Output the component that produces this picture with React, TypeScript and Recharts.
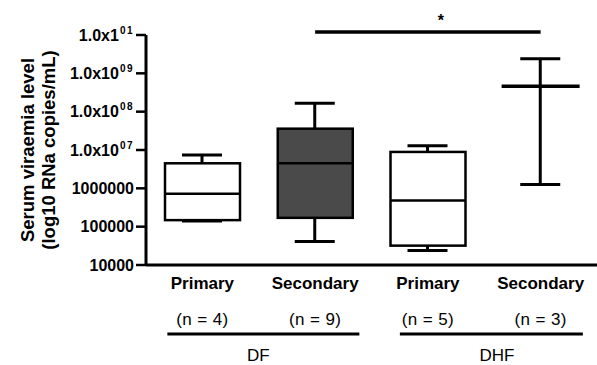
import React from 'react';
import { ComposedChart, Bar, Scatter, XAxis, YAxis, ReferenceLine } from 'recharts';

const categories = ['DF Primary', 'DF Secondary', 'DHF Primary', 'DHF Secondary'];
const typeLabels = ['Primary', 'Secondary', 'Primary', 'Secondary'];
const countLabels = ['(n = 4)', '(n = 9)', '(n = 5)', '(n = 3)'];
const groupLabels = ['DF', '', 'DHF', ''];

const whiskerLow = [1.4e5, 4.1e4, 2.4e4, 1.26e6];
const q1 = [1.48e5, 1.7e5, 3.2e4, null];
const median = [7.2e5, 4.5e6, 4.8e5, 4.6e8];
const q3 = [4.5e6, 3.6e7, 8.9e6, null];
const whiskerHigh = [7.4e6, 1.66e8, 1.3e7, 2.4e9];
const boxFill = ['#ffffff', '#4a4a4a', '#ffffff', '#ffffff'];

const yTicks = [1e4, 1e5, 1e6, 1e7, 1e8, 1e9, 1e10];
const yTickBase = ['10000', '100000', '1000000', '1.0x10', '1.0x10', '1.0x10', '1.0x1'];
const yTickSup = ['', '', '', '07', '08', '09', '01'];

const sigFrom = 'DF Secondary';
const sigTo = 'DHF Secondary';
const sigLevel = 1.2e10;
const sigLabel = '*';

const FONT = '"Liberation Sans", Arial, Helvetica, sans-serif';

// bracket layout (style only): offsets relative to the group's first tick
const groupStyle: Record<number, { l: number; r: number; t: number }> = {
  0: { l: -35, r: 157, t: 56 },
  2: { l: -28, r: 155, t: 69 },
};

const data = categories.map((cat, i) => ({
  cat,
  whisker: [whiskerLow[i], whiskerHigh[i]],
  box: q1[i] == null || q3[i] == null ? null : [q1[i], q3[i]],
  median: median[i],
}));

const WhiskerShape = (props: any) => {
  const { x, y, width, height } = props;
  if (x == null || y == null) return null;
  const cx = x + width / 2;
  return (
    <g stroke="#000" strokeWidth={3}>
      <line x1={cx} x2={cx} y1={y} y2={y + height} />
      <line x1={x} x2={x + width} y1={y} y2={y} />
      <line x1={x} x2={x + width} y1={y + height} y2={y + height} />
    </g>
  );
};

const BoxShape = (props: any) => {
  const { x, y, width, height, index } = props;
  if (x == null || y == null || !height) return null;
  return (
    <rect x={x} y={y} width={width} height={height} fill={boxFill[index]} stroke="#000" strokeWidth={2.5} />
  );
};

const MedianShape = (props: any) => {
  const { cx, cy, index } = props;
  if (cx == null || cy == null) return null;
  const w = index === 3 ? 78 : 75;
  return <line x1={cx - w / 2} x2={cx + w / 2} y1={cy} y2={cy} stroke="#000" strokeWidth={index === 3 ? 3.5 : 2.5} />;
};

const YTick = (props: any) => {
  const { x, y, index } = props;
  const sup = yTickSup[index];
  return (
    <text x={x} y={y + 5.5} textAnchor="end" fontFamily={FONT} fontWeight="bold" fontSize={16} fill="#000">
      <tspan>{yTickBase[index]}</tspan>
      {sup ? (
        <tspan dy={-7} dx={1} fontSize={10} letterSpacing={1.5}>
          {sup}
        </tspan>
      ) : null}
    </text>
  );
};

const XTick = (props: any) => {
  const { x, y, index } = props;
  const g = groupLabels[index];
  const st = groupStyle[index];
  return (
    <g fontFamily={FONT} fill="#000">
      <text x={x} y={y + 24} textAnchor="middle" fontWeight="bold" fontSize={17}>
        {typeLabels[index]}
      </text>
      <text x={x} y={y + 60} textAnchor="middle" fontSize={17} letterSpacing={0.4}>
        {countLabels[index]}
      </text>
      {g && st ? (
        <g>
          <line x1={x + st.l} x2={x + st.r} y1={y + 69} y2={y + 69} stroke="#000" strokeWidth={3} />
          <text x={x + st.t} y={y + 96} textAnchor="middle" fontSize={17}>
            {g}
          </text>
        </g>
      ) : null}
    </g>
  );
};

const YTitle = (props: any) => {
  const vb = props.viewBox || {};
  const cy = (vb.y ?? 35) + (vb.height ?? 230) / 2;
  return (
    <g fontFamily={FONT} fontWeight="bold" fontSize={18.5} fill="#000">
      <text x={27} y={cy} transform={`rotate(-90 27 ${cy})`} textAnchor="middle" dominantBaseline="central">
        Serum viraemia level
      </text>
      <text x={48} y={cy} transform={`rotate(-90 48 ${cy})`} textAnchor="middle" dominantBaseline="central">
        (log10 RNa copies/mL)
      </text>
    </g>
  );
};

const SigLabel = (props: any) => {
  const vb = props.viewBox || {};
  const cx = (vb.x ?? 0) + (vb.width ?? 0) / 2 + 13;
  const y = vb.y ?? 32;
  return (
    <text x={cx} y={y - 6} textAnchor="middle" fontFamily={FONT} fontWeight="bold" fontSize={16} fill="#000">
      {sigLabel}
    </text>
  );
};

export default function App() {
  return (
    <div style={{ position: 'absolute', left: 0, top: 0, width: 597, height: 365, background: '#fff' }}>
      <ComposedChart
        width={597}
        height={365}
        data={data}
        margin={{ top: 35, right: 0, bottom: 0, left: 0 }}
      >
        <XAxis
          xAxisId="main"
          dataKey="cat"
          type="category"
          height={100}
          interval={0}
          tickLine={false}
          tickSize={0}
          tickMargin={0}
          axisLine={{ stroke: '#000', strokeWidth: 3 }}
          tick={<XTick />}
        />
        <XAxis xAxisId="box" dataKey="cat" type="category" hide height={0} orientation="top" />
        <YAxis
          scale="log"
          type="number"
          domain={[1e4, 1e10]}
          allowDataOverflow
          ticks={yTicks}
          interval={0}
          width={146}
          tickSize={10}
          tickMargin={2}
          axisLine={{ stroke: '#000', strokeWidth: 3 }}
          tickLine={{ stroke: '#000', strokeWidth: 2.5 }}
          tick={<YTick />}
          label={<YTitle />}
        />
        <Bar xAxisId="main" dataKey="whisker" barSize={40} shape={<WhiskerShape />} isAnimationActive={false} />
        <Bar xAxisId="box" dataKey="box" barSize={75} shape={<BoxShape />} isAnimationActive={false} />
        <Scatter xAxisId="main" dataKey="median" shape={<MedianShape />} isAnimationActive={false} />
        <ReferenceLine
          xAxisId="main"
          ifOverflow="visible"
          segment={[
            { x: sigFrom, y: sigLevel },
            { x: sigTo, y: sigLevel },
          ]}
          stroke="#000"
          strokeWidth={3.5}
          label={<SigLabel />}
        />
      </ComposedChart>
    </div>
  );
}
